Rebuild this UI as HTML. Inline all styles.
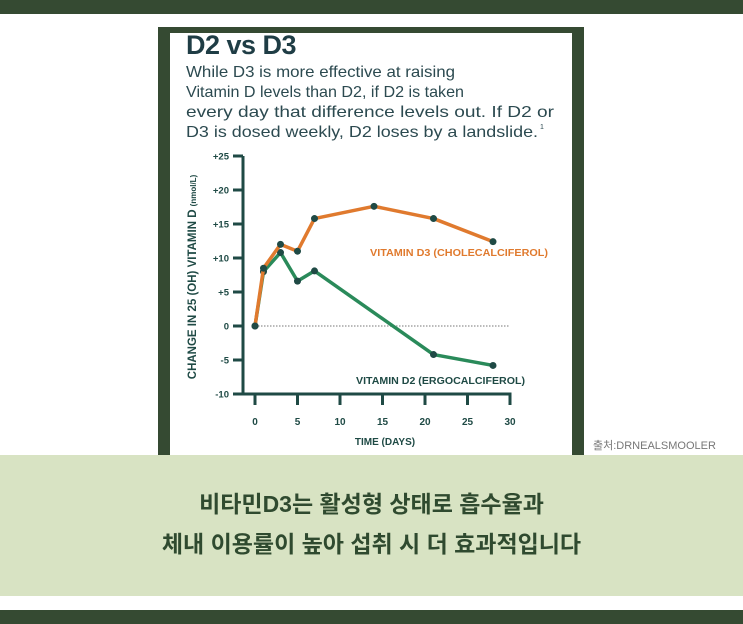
<!DOCTYPE html>
<html><head><meta charset="utf-8">
<style>
body{margin:0;width:743px;height:624px;background:#fff;position:relative;overflow:hidden;font-family:"Liberation Sans","Noto Sans CJK KR",sans-serif}
.abs{position:absolute}
</style></head><body>
<div class="abs" style="left:0;top:0;width:743px;height:14px;background:#354a32"></div>
<div class="abs" style="left:158px;top:27px;width:426px;height:430px;background:#354a32"></div>
<div class="abs" style="left:170px;top:33px;width:402px;height:424px;background:#fff"></div>
<div class="abs" style="left:186px;top:30px;font-size:27px;font-weight:bold;color:#1f3d45;letter-spacing:-0.5px">D2 vs D3</div>
<svg class="abs" style="left:0;top:0" width="743" height="160">
<g font-size="16" fill="#2c4a50" lengthAdjust="spacingAndGlyphs">
<text x="186" y="77" textLength="269" lengthAdjust="spacingAndGlyphs">While D3 is more effective at raising</text>
<text x="186" y="97" textLength="278" lengthAdjust="spacingAndGlyphs">Vitamin D levels than D2, if D2 is taken</text>
<text x="186" y="117" textLength="368" lengthAdjust="spacingAndGlyphs">every day that difference levels out. If D2 or</text>
<text x="186" y="137" textLength="352" lengthAdjust="spacingAndGlyphs">D3 is dosed weekly, D2 loses by a landslide.</text>
<text x="540" y="129" font-size="7">1</text>
</g></svg>
<svg class="abs" id="chart" style="left:0;top:0" width="743" height="624"></svg>
<div class="abs" style="left:593px;top:437px;font-size:11px;color:#777">출처:DRNEALSMOOLER</div>
<div class="abs" style="left:0;top:455px;width:743px;height:141px;background:#d8e3c3"></div>
<div class="abs" style="left:0;top:484px;width:743px;text-align:center;font-size:23px;font-weight:bold;line-height:40px;color:#2f4a2f">비타민D3는 활성형 상태로 흡수율과<br>체내 이용률이 높아 섭취 시 더 효과적입니다</div>
<div class="abs" style="left:0;top:610px;width:743px;height:14px;background:#354a32"></div>
<script>
const d3Days=[0,1,3,5,7,14,21,28];
const d3Vals=[0,8.5,12,11,15.8,17.6,15.8,12.4];
const d2Days=[0,1,3,5,7,21,28];
const d2Vals=[0,8,10.8,6.6,8.1,-4.2,-5.8];
const yTicks=[25,20,15,10,5,0,-5,-10];
const yTickLabels=["+25","+20","+15","+10","+5","0","-5","-10"];
const xTicks=[0,5,10,15,20,25,30];
const NS="http://www.w3.org/2000/svg";
const svg=document.getElementById('chart');
const X=d=>255+d*8.5;
const Y=v=>326-v*6.8;
const dark="#1f4a45";
function mk(tag,attrs,parent){const e=document.createElementNS(NS,tag);for(const k in attrs)e.setAttribute(k,attrs[k]);(parent||svg).appendChild(e);return e;}
let z=mk('line',{x1:X(0),x2:X(30),y1:Y(0),y2:Y(0),stroke:"#bbb","stroke-width":2,"stroke-dasharray":"1.5 1.5"});


let ya=mk('line',{x1:243,x2:243,y1:Y(25),y2:Y(-10)+1.5,stroke:dark,"stroke-width":3});


let xa=mk('line',{x1:243,x2:X(30)+1.5,y1:Y(-10),y2:Y(-10),stroke:dark,"stroke-width":3});


yTicks.forEach((v,i)=>{
  let t=mk('line',{x1:233,x2:243,y1:Y(v),y2:Y(v),stroke:dark,"stroke-width":3});
  
  
  let l=mk('text',{x:229,y:Y(v)+3.5,"text-anchor":"end","font-size":9.5,"font-weight":"bold",fill:dark});
  l.textContent=yTickLabels[i];
  
  
});
xTicks.forEach(d=>{
  let t=mk('line',{x1:X(d),x2:X(d),y1:Y(-10),y2:Y(-10)+11,stroke:dark,"stroke-width":3});
  
  
  let l=mk('text',{x:X(d),y:425,"text-anchor":"middle","font-size":10,"font-weight":"bold",fill:dark});
  l.textContent=d;
  
  
});
let xt=mk('text',{x:385,y:445,"text-anchor":"middle","font-size":10,"font-weight":"bold",fill:dark});
xt.textContent="TIME (DAYS)";


let yt=mk('text',{x:0,y:0,"text-anchor":"middle","font-size":11.5,"font-weight":"bold",fill:dark,transform:"translate(196,277) rotate(-90)"});
yt.innerHTML='CHANGE IN 25 (OH) VITAMIN D <tspan font-size="8">(nmol/L)</tspan>';


function series(days,vals,color,name){
  let p=mk('polyline',{points:days.map((d,i)=>X(d)+','+Y(vals[i])).join(' '),fill:"none",stroke:color,"stroke-width":3.5,"stroke-linejoin":"round"});
  
  
  days.forEach((d,i)=>{
    let c=mk('circle',{cx:X(d),cy:Y(vals[i]),r:3.5,fill:dark});
    
    
  });
}
series(d2Days,d2Vals,"#2a8a5a","d2");
series(d3Days,d3Vals,"#e07a2e","d3");
let l3=mk('text',{x:370,y:256,"font-size":10,"font-weight":"bold",fill:"#e07a2e",textLength:178,lengthAdjust:"spacingAndGlyphs"});
l3.textContent="VITAMIN D3 (CHOLECALCIFEROL)";


let l2=mk('text',{x:356,y:384,"font-size":10,"font-weight":"bold",fill:dark,textLength:169,lengthAdjust:"spacingAndGlyphs"});
l2.textContent="VITAMIN D2 (ERGOCALCIFEROL)";


</script>
</body></html>
